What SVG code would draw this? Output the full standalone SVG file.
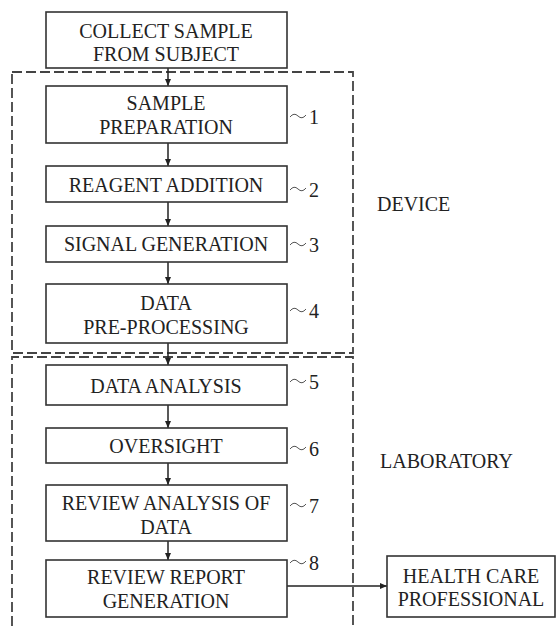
<svg xmlns="http://www.w3.org/2000/svg" width="556" height="627" viewBox="0 0 556 627">
<defs>
<marker id="ah" markerWidth="8" markerHeight="8" refX="7" refY="4" orient="auto" markerUnits="userSpaceOnUse">
<path d="M0,1 L7,4 L0,7 Z" fill="#222"/>
</marker>
<style>
.box{fill:#fff;stroke:#333;stroke-width:1.6}
.t{font-family:"Liberation Serif","Times New Roman",serif;font-size:20px;fill:#222;text-anchor:middle}
.side{font-family:"Liberation Serif","Times New Roman",serif;font-size:20px;fill:#222}
.dash{fill:none;stroke:#444;stroke-width:1.8;stroke-dasharray:10 4}
.con{stroke:#222;stroke-width:1.5;fill:none;marker-end:url(#ah)}
.tilde{fill:none;stroke:#555;stroke-width:1}
</style>
</defs>
<rect width="556" height="627" fill="#fff"/>

<g id="regions">
<rect class="dash" x="12" y="72" width="341" height="281"/>
<path class="dash" d="M12,640 L12,357 L353,357 L353,640"/>
<text class="side" x="377" y="211">DEVICE</text>
<text class="side" x="380" y="468">LABORATORY</text>
</g>

<g id="connectors">
<line class="con" x1="168" y1="68" x2="168" y2="86"/>
<line class="con" x1="168" y1="143" x2="168" y2="166"/>
<line class="con" x1="168" y1="202" x2="168" y2="226"/>
<line class="con" x1="168" y1="262" x2="168" y2="284"/>
<line class="con" x1="168" y1="343" x2="168" y2="365"/>
<line class="con" x1="168" y1="405" x2="168" y2="428"/>
<line class="con" x1="168" y1="463" x2="168" y2="485"/>
<line class="con" x1="168" y1="541" x2="168" y2="560"/>
<line class="con" x1="287" y1="586" x2="387" y2="586"/>
</g>

<g id="collect">
<rect class="box" x="46" y="12" width="241" height="56"/>
<text class="t" x="166" y="38">COLLECT SAMPLE</text>
<text class="t" x="166" y="61">FROM SUBJECT</text>
</g>

<g id="n1">
<rect class="box" x="46" y="86" width="241" height="57"/>
<text class="t" x="166" y="110">SAMPLE</text>
<text class="t" x="166" y="134">PREPARATION</text>
<path class="tilde" d="M290,117 q4,-5 8,-1 t8,-1"/>
<text class="side" x="309" y="124">1</text>
</g>

<g id="n2">
<rect class="box" x="46" y="166" width="241" height="36"/>
<text class="t" x="166" y="192">REAGENT ADDITION</text>
<path class="tilde" d="M290,190 q4,-5 8,-1 t8,-1"/>
<text class="side" x="309" y="197">2</text>
</g>

<g id="n3">
<rect class="box" x="46" y="226" width="241" height="36"/>
<text class="t" x="166" y="251">SIGNAL GENERATION</text>
<path class="tilde" d="M290,245 q4,-5 8,-1 t8,-1"/>
<text class="side" x="309" y="252">3</text>
</g>

<g id="n4">
<rect class="box" x="46" y="284" width="241" height="59"/>
<text class="t" x="166" y="310">DATA</text>
<text class="t" x="166" y="334">PRE-PROCESSING</text>
<path class="tilde" d="M290,311 q4,-5 8,-1 t8,-1"/>
<text class="side" x="309" y="318">4</text>
</g>

<g id="n5">
<rect class="box" x="46" y="365" width="241" height="40"/>
<text class="t" x="166" y="393">DATA ANALYSIS</text>
<path class="tilde" d="M290,382 q4,-5 8,-1 t8,-1"/>
<text class="side" x="309" y="389">5</text>
</g>

<g id="n6">
<rect class="box" x="46" y="428" width="241" height="35"/>
<text class="t" x="166" y="453">OVERSIGHT</text>
<path class="tilde" d="M290,449 q4,-5 8,-1 t8,-1"/>
<text class="side" x="309" y="456">6</text>
</g>

<g id="n7">
<rect class="box" x="46" y="485" width="241" height="56"/>
<text class="t" x="166" y="510">REVIEW ANALYSIS OF</text>
<text class="t" x="166" y="534">DATA</text>
<path class="tilde" d="M290,506 q4,-5 8,-1 t8,-1"/>
<text class="side" x="309" y="513">7</text>
</g>

<g id="n8">
<rect class="box" x="46" y="560" width="241" height="57"/>
<text class="t" x="166" y="584">REVIEW REPORT</text>
<text class="t" x="166" y="608">GENERATION</text>
<path class="tilde" d="M290,563 q4,-5 8,-1 t8,-1"/>
<text class="side" x="309" y="570">8</text>
</g>

<g id="hcp">
<rect class="box" x="387" y="556" width="168" height="61"/>
<text class="t" x="471" y="583">HEALTH CARE</text>
<text class="t" x="471" y="606">PROFESSIONAL</text>
</g>
</svg>
